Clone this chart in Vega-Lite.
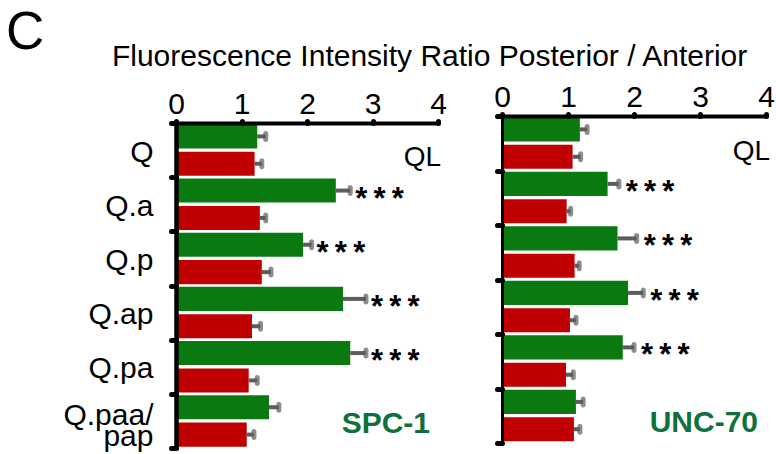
{
  "$schema": "https://vega.github.io/schema/vega-lite/v6.json",
  "padding": {"left": 5, "top": 7, "right": 0, "bottom": 0},
  "background": "white",
  "config": {"view": {"stroke": null}, "font": "Liberation Sans", "axis": {"grid": false}},
  "title": {"text": "C", "anchor": "start", "frame": "bounds", "fontSize": 53, "fontWeight": "normal", "color": "black", "dx": -57, "offset": -18},
  "vconcat": [
    {
      "title": {"text": "Fluorescence Intensity Ratio Posterior / Anterior", "anchor": "start", "frame": "bounds", "fontSize": 30, "fontWeight": "normal", "color": "black", "dx": 49, "offset": 10},
      "bounds": "flush",
      "spacing": 64,
      "hconcat": [
        {
          "width": 262,
          "height": 332,
          "data": {"values": [
            {"cat": "Q", "grp": "green", "value": 1.24, "hi": 1.37, "sig": ""},
            {"cat": "Q", "grp": "red", "value": 1.2, "hi": 1.31, "sig": ""},
            {"cat": "Q.a", "grp": "green", "value": 2.44, "hi": 2.66, "sig": "*\u2009*\u2009*"},
            {"cat": "Q.a", "grp": "red", "value": 1.28, "hi": 1.37, "sig": ""},
            {"cat": "Q.p", "grp": "green", "value": 1.94, "hi": 2.07, "sig": "*\u2009*\u2009*"},
            {"cat": "Q.p", "grp": "red", "value": 1.31, "hi": 1.45, "sig": ""},
            {"cat": "Q.ap", "grp": "green", "value": 2.55, "hi": 2.9, "sig": "*\u2009*\u2009*"},
            {"cat": "Q.ap", "grp": "red", "value": 1.16, "hi": 1.29, "sig": ""},
            {"cat": "Q.pa", "grp": "green", "value": 2.66, "hi": 2.9, "sig": "*\u2009*\u2009*"},
            {"cat": "Q.pa", "grp": "red", "value": 1.11, "hi": 1.24, "sig": ""},
            {"cat": "Q.paa/pap", "grp": "green", "value": 1.42, "hi": 1.57, "sig": ""},
            {"cat": "Q.paa/pap", "grp": "red", "value": 1.08, "hi": 1.19, "sig": ""}
          ]},
          "encoding": {
            "y": {"field": "cat", "type": "nominal", "sort": ["Q", "Q.a", "Q.p", "Q.ap", "Q.pa", "Q.paa/pap"],
              "scale": {"range": [7, 332], "paddingInner": 0, "paddingOuter": 0},
              "axis": {"title": null, "orient": "left", "zindex": 1, "labelFontSize": 30, "labelColor": "black", "labelPadding": 18,
                "labelLineHeight": 21, "labelBaseline": "middle",
                "labelOffset": {"condition": {"test": "datum.value == 'Q.paa/pap'", "value": -5}, "value": 2},
                "labelExpr": "datum.value == 'Q.paa/pap' ? ['Q.paa/', 'pap'] : datum.label",
                "tickBand": "extent", "tickSize": 5, "tickWidth": 5, "tickCap": "round", "tickColor": "black",
                "domainWidth": 4.5, "domainColor": "black"}},
            "yOffset": {"field": "grp", "type": "nominal", "sort": ["green", "red"], "scale": {"paddingInner": 0.12, "paddingOuter": 0.05}}
          },
          "layer": [
            {"mark": {"type": "bar"},
             "encoding": {
               "x": {"field": "value", "type": "quantitative", "scale": {"domain": [0, 4], "nice": false},
                 "axis": {"title": null, "orient": "top", "zindex": 1, "values": [0, 1, 2, 3, 4], "format": "d", "offset": -7,
                   "labelFontSize": 30, "labelColor": "black", "labelPadding": 2, "labelFlush": false,
                   "domainWidth": 4, "domainColor": "black", "domainCap": "round",
                   "tickSize": 2, "tickWidth": 5, "tickCap": "round", "tickColor": "black"}},
               "color": {"field": "grp", "type": "nominal", "scale": {"domain": ["green", "red"], "range": ["#0a7a10", "#c00000"]}, "legend": null}}},
            {"mark": {"type": "rule", "color": "#5c5c5c", "strokeWidth": 4},
             "encoding": {"x": {"field": "value", "type": "quantitative"}, "x2": {"field": "hi"}}},
            {"mark": {"type": "tick", "color": "#5c5c5c", "thickness": 5, "size": 11, "cornerRadius": 2.5},
             "encoding": {"x": {"field": "hi", "type": "quantitative"}}},
            {"transform": [{"filter": "datum.sig != ''"}],
             "mark": {"type": "text", "align": "left", "baseline": "alphabetic", "dx": 5, "dy": 18, "fontSize": 31, "fontWeight": "bold", "color": "black"},
             "encoding": {"x": {"field": "hi", "type": "quantitative"}, "text": {"field": "sig"}}},
            {"data": {"values": [{"t": "QL"}]},
             "mark": {"type": "text", "align": "right", "baseline": "alphabetic", "fontSize": 28, "dx": 3, "dy": 2, "color": "black"},
             "encoding": {"x": {"datum": 4}, "y": {"datum": "Q"}, "yOffset": {"datum": "red"}, "text": {"field": "t"}}},
            {"data": {"values": [{"t": "SPC-1"}]},
             "mark": {"type": "text", "align": "right", "baseline": "alphabetic", "fontSize": 30, "fontWeight": "bold", "dx": -8, "dy": -2, "color": "#10703c"},
             "encoding": {"x": {"datum": 4}, "y": {"datum": "Q.paa/pap"}, "yOffset": {"datum": "red"}, "text": {"field": "t"}}}
          ]
        },
        {
          "width": 264,
          "height": 327,
          "data": {"values": [
            {"cat": "Q", "grp": "green", "value": 1.18, "hi": 1.29, "sig": ""},
            {"cat": "Q", "grp": "red", "value": 1.07, "hi": 1.19, "sig": ""},
            {"cat": "Q.a", "grp": "green", "value": 1.6, "hi": 1.77, "sig": "*\u2009*\u2009*"},
            {"cat": "Q.a", "grp": "red", "value": 0.98, "hi": 1.04, "sig": ""},
            {"cat": "Q.p", "grp": "green", "value": 1.75, "hi": 2.04, "sig": "*\u2009*\u2009*"},
            {"cat": "Q.p", "grp": "red", "value": 1.1, "hi": 1.17, "sig": ""},
            {"cat": "Q.ap", "grp": "green", "value": 1.91, "hi": 2.14, "sig": "*\u2009*\u2009*"},
            {"cat": "Q.ap", "grp": "red", "value": 1.03, "hi": 1.12, "sig": ""},
            {"cat": "Q.pa", "grp": "green", "value": 1.83, "hi": 2.0, "sig": "*\u2009*\u2009*"},
            {"cat": "Q.pa", "grp": "red", "value": 0.97, "hi": 1.08, "sig": ""},
            {"cat": "Q.paa/pap", "grp": "green", "value": 1.12, "hi": 1.23, "sig": ""},
            {"cat": "Q.paa/pap", "grp": "red", "value": 1.09, "hi": 1.18, "sig": ""}
          ]},
          "encoding": {
            "y": {"field": "cat", "type": "nominal", "sort": ["Q", "Q.a", "Q.p", "Q.ap", "Q.pa", "Q.paa/pap"],
              "scale": {"paddingInner": 0, "paddingOuter": 0},
              "axis": {"title": null, "orient": "left", "zindex": 1, "labels": false,
                "tickBand": "extent", "tickSize": 5, "tickWidth": 5, "tickCap": "round", "tickColor": "black",
                "domainWidth": 3, "domainColor": "black"}},
            "yOffset": {"field": "grp", "type": "nominal", "sort": ["green", "red"], "scale": {"paddingInner": 0.12, "paddingOuter": 0.05}}
          },
          "layer": [
            {"mark": {"type": "bar"},
             "encoding": {
               "x": {"field": "value", "type": "quantitative", "scale": {"domain": [0, 4], "nice": false},
                 "axis": {"title": null, "orient": "top", "zindex": 1, "values": [0, 1, 2, 3, 4], "format": "d",
                   "labelFontSize": 30, "labelColor": "black", "labelPadding": 2, "labelFlush": false,
                   "domainWidth": 4, "domainColor": "black", "domainCap": "round",
                   "tickSize": 2, "tickWidth": 5, "tickCap": "round", "tickColor": "black"}},
               "color": {"field": "grp", "type": "nominal", "scale": {"domain": ["green", "red"], "range": ["#0a7a10", "#c00000"]}, "legend": null}}},
            {"mark": {"type": "rule", "color": "#5c5c5c", "strokeWidth": 4},
             "encoding": {"x": {"field": "value", "type": "quantitative"}, "x2": {"field": "hi"}}},
            {"mark": {"type": "tick", "color": "#5c5c5c", "thickness": 5, "size": 11, "cornerRadius": 2.5},
             "encoding": {"x": {"field": "hi", "type": "quantitative"}}},
            {"transform": [{"filter": "datum.sig != ''"}],
             "mark": {"type": "text", "align": "left", "baseline": "alphabetic", "dx": 7, "dy": 18, "fontSize": 31, "fontWeight": "bold", "color": "black"},
             "encoding": {"x": {"field": "hi", "type": "quantitative"}, "text": {"field": "sig"}}},
            {"data": {"values": [{"t": "QL"}]},
             "mark": {"type": "text", "align": "right", "baseline": "alphabetic", "fontSize": 28, "dx": 4, "dy": 3, "color": "black"},
             "encoding": {"x": {"datum": 4}, "y": {"datum": "Q"}, "yOffset": {"datum": "red"}, "text": {"field": "t"}}},
            {"data": {"values": [{"t": "UNC-70"}]},
             "mark": {"type": "text", "align": "right", "baseline": "alphabetic", "fontSize": 30, "fontWeight": "bold", "dx": -8, "dy": 3, "color": "#10703c"},
             "encoding": {"x": {"datum": 4}, "y": {"datum": "Q.paa/pap"}, "yOffset": {"datum": "red"}, "text": {"field": "t"}}}
          ]
        }
      ]
    }
  ]
}
